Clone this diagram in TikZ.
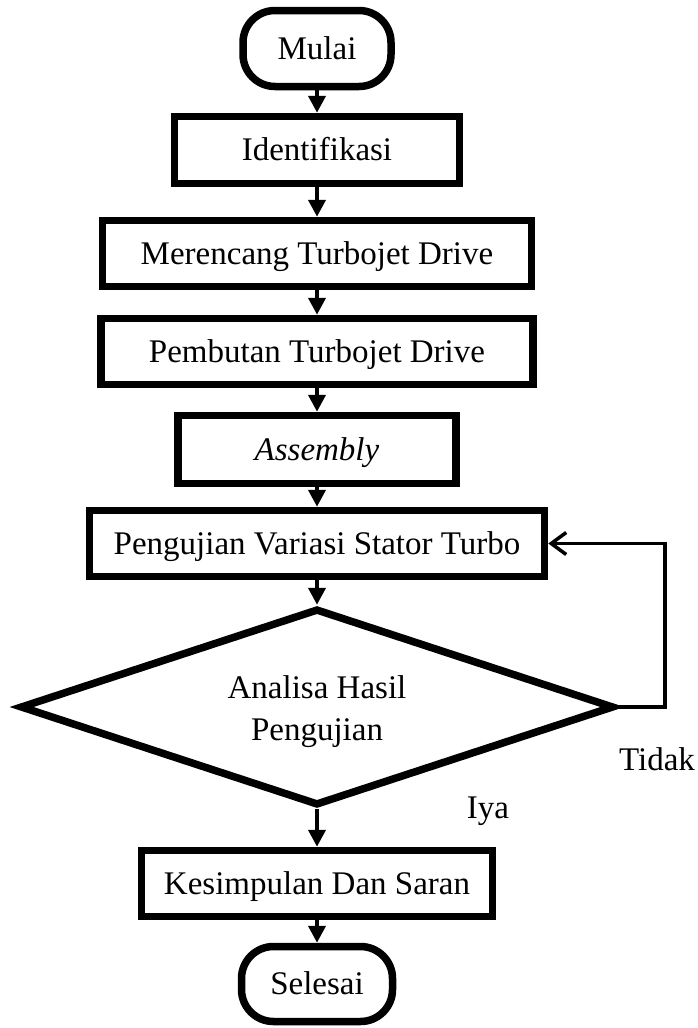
\documentclass[tikz,border=0pt]{standalone}
\usepackage{fontspec}
\setmainfont{Liberation Serif}
\usetikzlibrary{arrows.meta,shapes.geometric}
\begin{document}
\begin{tikzpicture}[x=1pt,y=-1pt,
  font=\fontsize{33}{42}\selectfont,
  base/.style={draw=black,line width=7.5pt,inner sep=0pt,text height=27pt,text depth=6pt,fill=white},
  terminal/.style={base,rectangle,rounded corners=32pt},
  process/.style={base,rectangle},
  decision/.style={draw=black,line width=7.5pt,diamond,inner sep=0pt,align=center,aspect=3},
  flow/.style={line width=4pt,-{Triangle[length=17pt,width=17pt]}},
  back/.style={line width=3.5pt,-{Straight Barb[length=15pt,width=22pt,line width=3.5pt]}},
  lbl/.style={text height=27pt,text depth=6pt,inner sep=0pt}]
\useasboundingbox (0,0) rectangle (697,1028);

% process chain
\node[terminal,minimum width=148pt,minimum height=76pt] (mulai) at (317,48.5) {Mulai};
\node[process,minimum width=285pt,minimum height=67pt] (ident) at (317,150) {Identifikasi};
\node[process,minimum width=429pt,minimum height=66pt] (meren) at (317,253.5) {Merencang Turbojet Drive};
\node[process,minimum width=432pt,minimum height=66pt] (pemb) at (317,351.5) {Pembutan Turbojet Drive};
\node[process,minimum width=278pt,minimum height=68pt] (asm) at (317,449.5) {\textit{Assembly}};
\node[process,minimum width=455pt,minimum height=66pt] (uji) at (317,543.5) {Pengujian Variasi Stator Turbo};
\node[decision,minimum width=594pt,minimum height=197pt] (analisa) at (317,707) {\rule{0pt}{32pt}Analisa Hasil\\Pengujian};
\node[process,minimum width=351pt,minimum height=66pt] (kes) at (317,883.5) {Kesimpulan Dan Saran};
\node[terminal,minimum width=151pt,minimum height=75pt] (sel) at (317,984) {Selesai};

% branch labels
\node[lbl] (tidak) at (657,760) {Tidak};
\node[lbl] (iya) at (488,808) {Iya};

% connectors
\draw[flow] (mulai) -- (ident);
\draw[flow] (ident) -- (meren);
\draw[flow] (meren) -- (pemb);
\draw[flow] (pemb) -- (asm);
\draw[flow] (asm) -- (uji);
\draw[flow] (uji) -- (analisa);
\draw[flow] (analisa) -- (kes);
\draw[flow] (kes) -- (sel);

% loop back when the result is rejected
\coordinate (loopx) at (665,0);
\draw[back] (analisa.east) -- (analisa.east -| loopx) -- (uji.east -| loopx) -- (uji.east);
\end{tikzpicture}
\end{document}
